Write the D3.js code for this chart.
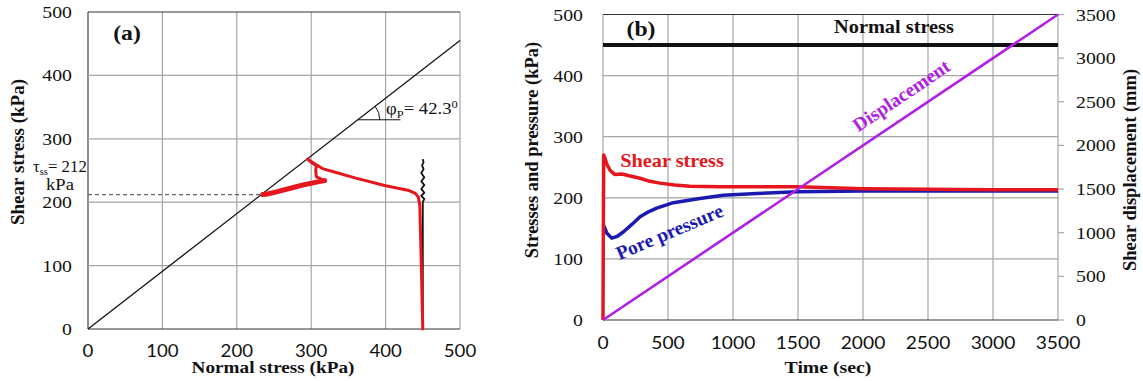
<!DOCTYPE html>
<html lang="en">
<head>
<meta charset="UTF-8">
<title>Stress path and time series</title>
<script src="https://cdn.jsdelivr.net/npm/d3@7"></script>
<style>
  body { margin: 0; background: #fff; }
  text { font-family: "Liberation Serif", "Times New Roman", serif; fill: #111; }
  .tick-sans { font-family: Lato, "Liberation Sans", sans-serif; }
</style>
</head>
<body>
<script>
// ---- panel (a): stress path ----
const aTicks = [0, 100, 200, 300, 400, 500]
const envSigma = [0, 500]
const envTau = [0, 455]
const tauSS = 212
// effective stress path (red)
const pathSigma = [450, 449, 448, 447, 446, 444, 440, 430, 400, 360, 330, 315, 303, 295, 301, 307, 306, 307, 318, 309, 292, 272, 252, 241, 235]
const pathTau   = [0, 50, 100, 150, 195, 208, 214, 219, 226, 238, 248, 253, 262, 268, 262, 258, 250, 240, 234, 232, 228, 222, 216, 213, 212]
// total stress path (black)
const totalSigma = [450, 450, 450, 452, 448, 452, 448, 452, 448, 452, 448, 451, 449, 451, 450]
const totalTau   = [0, 150, 200, 205, 210, 215, 221, 227, 233, 239, 246, 252, 258, 263, 268]

// ---- panel (b): time series ----
const timeTicks = [0, 500, 1000, 1500, 2000, 2500, 3000, 3500]
const leftTicks = [0, 100, 200, 300, 400, 500]
const rightTicks = [0, 500, 1000, 1500, 2000, 2500, 3000, 3500]
const shearTime = [0, 5, 10, 30, 54, 90, 144, 200, 285, 360, 438, 550, 669, 900, 1182, 1500, 2000, 2500, 3000, 3500]
const shearVal  = [0, 270, 268, 255, 245, 238, 239, 236, 232, 227, 224, 221, 219, 218, 218, 218, 215, 214, 213, 213]
const poreTime = [5, 30, 67, 110, 156, 220, 285, 350, 413, 541, 746, 925, 1182, 1490, 2000, 2500, 3000, 3500]
const poreVal  = [155, 142, 134, 137, 144, 156, 169, 177, 183, 192, 199, 204, 207, 210, 211, 211, 211, 211]
const normalTime = [0, 500, 1000, 1500, 2000, 2500, 3000, 3500]
const normalVal  = [450, 450, 450, 450, 450, 450, 450, 450]
const dispTime = [0, 3500]
const dispVal  = [0, 3500]

const W = 1143, H = 381
const svg = d3.select('body').append('svg').attr('width', W).attr('height', H)

const red = '#e5161d', blue = '#1a1ab0', purple = '#b01fe3', grid = '#a6a6a6'
const SX = 1.13  // the source figure is slightly wider than tall

// text placed at (x,y), optional rotation, stretched along x
function label(g, x, y, str, opts = {}) {
    const t = g.append('text')
        .attr('transform', `translate(${x},${y}) rotate(${opts.rot || 0}) scale(${opts.sx || SX},1)`)
        .attr('text-anchor', opts.anchor || 'middle')
        .style('font-size', (opts.size || 18) + 'px')
    if (opts.bold) t.style('font-weight', 'bold')
    if (opts.fill) t.style('fill', opts.fill)
    if (opts.cls) t.attr('class', opts.cls)
    if (str !== null) t.text(str)
    return t
}

// ================= panel (a) =================
const ax = d3.scaleLinear().domain([0, 500]).range([88, 460])
const ay = d3.scaleLinear().domain([0, 500]).range([329, 12])
const ga = svg.append('g')

ga.selectAll('line.vg').data(aTicks).enter().append('line')
    .attr('x1', d => ax(d)).attr('x2', d => ax(d))
    .attr('y1', ay(0)).attr('y2', ay(500))
    .attr('stroke', d => d === 0 ? '#444' : grid).attr('stroke-width', 1.2)
ga.selectAll('line.hg').data(aTicks).enter().append('line')
    .attr('x1', ax(0)).attr('x2', ax(500))
    .attr('y1', d => ay(d)).attr('y2', d => ay(d))
    .attr('stroke', d => (d === 0 || d === 500) ? '#333' : grid).attr('stroke-width', 1.2)

aTicks.forEach(d => label(ga, 72, ay(d) + 6, d, {anchor: 'end', size: 17.5}))
aTicks.forEach(d => label(ga, ax(d), 357, d, {size: 16.5, cls: 'tick-sans'}))

label(ga, 273, 373, 'Normal stress (kPa)', {bold: true, size: 17})
label(ga, 24, 152, 'Shear stress (kPa)', {bold: true, size: 19, rot: -90, sx: 1})
label(ga, 127, 40, '(a)', {bold: true, size: 21})

const lineA = d3.line().x(d => ax(d[0])).y(d => ay(d[1]))

// failure envelope
ga.append('path').attr('d', lineA(d3.zip(envSigma, envTau)))
    .attr('fill', 'none').attr('stroke', '#111').attr('stroke-width', 1.3)

// steady-state dashed line
ga.append('path').attr('d', lineA([[0, tauSS], [tauSS * envSigma[1] / envTau[1], tauSS]]))
    .attr('fill', 'none').attr('stroke', '#666').attr('stroke-width', 1.3)
    .attr('stroke-dasharray', '4,3')

// total stress path
ga.append('path').attr('d', lineA(d3.zip(totalSigma, totalTau)))
    .attr('fill', 'none').attr('stroke', '#111').attr('stroke-width', 1.8)

// effective stress path, thicker where it sits at steady state
ga.append('path').attr('d', lineA(d3.zip(pathSigma, pathTau)))
    .attr('fill', 'none').attr('stroke', red).attr('stroke-width', 3)
    .attr('stroke-linejoin', 'round').attr('stroke-linecap', 'round')
ga.append('path').attr('d', lineA(d3.zip(pathSigma, pathTau).slice(18)))
    .attr('fill', 'none').attr('stroke', red).attr('stroke-width', 5)
    .attr('stroke-linejoin', 'round').attr('stroke-linecap', 'round')

// friction angle marker
const annTau = 330
const annS0 = annTau * envSigma[1] / envTau[1]
ga.append('path').attr('d', lineA([[annS0, annTau], [420, annTau]]))
    .attr('fill', 'none').attr('stroke', '#111').attr('stroke-width', 1)
const cx = ax(annS0), cy = ay(annTau), r = 22
const ang = Math.atan2(ay(0) - ay(envTau[1]), ax(envSigma[1]) - ax(0))
ga.append('path')
    .attr('d', `M${cx + r},${cy} A${r},${r} 0 0 0 ${cx + r * Math.cos(ang)},${cy - r * Math.sin(ang)}`)
    .attr('fill', 'none').attr('stroke', '#111').attr('stroke-width', 1)
const phiT = label(ga, 386, 114, null, {anchor: 'start', size: 16.5})
phiT.append('tspan').text('φ')
phiT.append('tspan').attr('dy', 4).style('font-size', '11px').text('P')
phiT.append('tspan').attr('dy', -4).text('= 42.3')
phiT.append('tspan').attr('dy', -6).style('font-size', '11px').text('0')

const tauT = label(ga, 33, 172, null, {anchor: 'start', size: 16, sx: 1.05})
tauT.append('tspan').text('τ')
tauT.append('tspan').attr('dy', 3).style('font-size', '10px').text('ss')
tauT.append('tspan').attr('dy', -3).text('= 212')
label(ga, 60, 190, 'kPa', {size: 16.5})

// ================= panel (b) =================
const bx = d3.scaleLinear().domain([0, 3500]).range([603, 1058])
const by = d3.scaleLinear().domain([0, 500]).range([320, 14.5])
const byR = d3.scaleLinear().domain([0, 3500]).range([320, 14.5])
const gb = svg.append('g')

gb.selectAll('line.vg').data(timeTicks).enter().append('line')
    .attr('x1', d => bx(d)).attr('x2', d => bx(d))
    .attr('y1', by(0)).attr('y2', by(500))
    .attr('stroke', grid).attr('stroke-width', 1.2)
gb.selectAll('line.hg').data(leftTicks).enter().append('line')
    .attr('x1', bx(0)).attr('x2', bx(3500))
    .attr('y1', d => by(d)).attr('y2', d => by(d))
    .attr('stroke', d => (d === 0 || d === 500) ? '#333' : grid).attr('stroke-width', 1.2)
gb.selectAll('line.rt').data(rightTicks).enter().append('line')
    .attr('x1', bx(3500)).attr('x2', bx(3500) + 6)
    .attr('y1', d => byR(d)).attr('y2', d => byR(d))
    .attr('stroke', grid).attr('stroke-width', 1.2)

leftTicks.forEach(d => label(gb, 583, by(d) + 6, d, {anchor: 'end', size: 17.5}))
rightTicks.forEach(d => label(gb, 1076, byR(d) + 6, d, {anchor: 'start', size: 17.5}))
timeTicks.forEach(d => label(gb, bx(d), 349, d, {size: 17, cls: 'tick-sans'}))

label(gb, 828, 373, 'Time (sec)', {bold: true, size: 17.5})
label(gb, 538, 150, 'Stresses and pressure (kPa)', {bold: true, size: 18.5, rot: -90, sx: 1})
label(gb, 1136, 170, 'Shear displacement (mm)', {bold: true, size: 18.5, rot: -90, sx: 1})
label(gb, 641, 36, '(b)', {bold: true, size: 21})
label(gb, 894, 33, 'Normal stress', {bold: true, size: 18})

const lineB = d3.line().x(d => bx(d[0])).y(d => by(d[1]))
const lineR = d3.line().x(d => bx(d[0])).y(d => byR(d[1]))

gb.append('path').attr('d', lineB(d3.zip(normalTime, normalVal)))
    .attr('fill', 'none').attr('stroke', '#111').attr('stroke-width', 4)
gb.append('path').attr('d', lineB(d3.zip(poreTime, poreVal)))
    .attr('fill', 'none').attr('stroke', blue).attr('stroke-width', 3.5).attr('stroke-linejoin', 'round')
gb.append('path').attr('d', lineB(d3.zip(shearTime, shearVal)))
    .attr('fill', 'none').attr('stroke', red).attr('stroke-width', 3.5).attr('stroke-linejoin', 'round')
gb.append('path').attr('d', lineR(d3.zip(dispTime, dispVal)))
    .attr('fill', 'none').attr('stroke', purple).attr('stroke-width', 2.6)

label(gb, 672, 167, 'Shear stress', {bold: true, size: 18, fill: red})
label(gb, 672, 238, 'Pore pressure', {bold: true, size: 19.5, fill: blue, rot: -23, sx: 1})
const slope = Math.atan2(byR(0) - byR(3500), bx(3500) - bx(0)) * 180 / Math.PI
label(gb, 905, 101, 'Displacement', {bold: true, size: 19.5, fill: purple, rot: -slope, sx: 1})
</script>
</body>
</html>
